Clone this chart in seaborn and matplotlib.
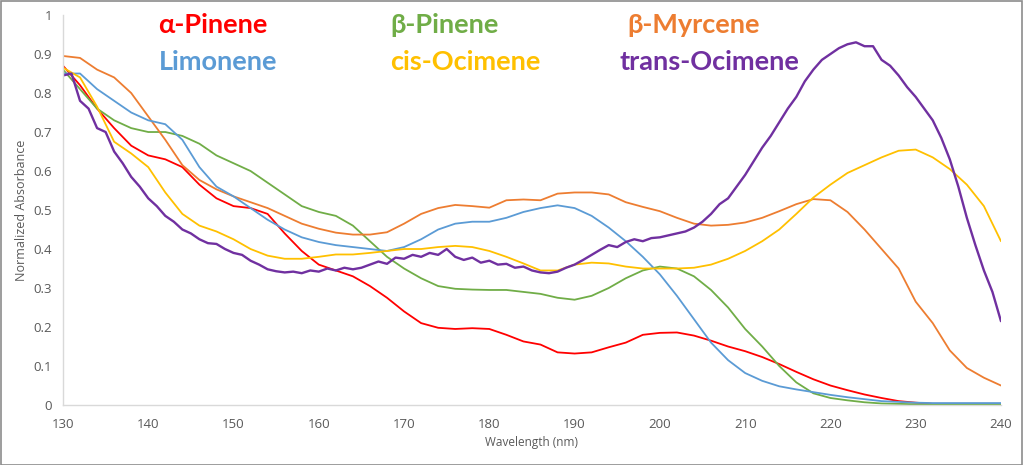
import numpy as np
import pandas as pd
import matplotlib
matplotlib.use("Agg")
import matplotlib.pyplot as plt
import seaborn as sns
from matplotlib.patches import Rectangle

# ---- data ----
wl2 = list(range(130, 241, 2))  # 2 nm grid for smoother spectra

alpha_pinene = [0.87, 0.82, 0.76, 0.71, 0.665, 0.64, 0.63, 0.61, 0.565, 0.53,
                0.51, 0.505, 0.49, 0.44, 0.395, 0.36, 0.345, 0.33, 0.305, 0.275,
                0.24, 0.21, 0.198, 0.195, 0.197, 0.195, 0.18, 0.163, 0.155, 0.135,
                0.132, 0.135, 0.148, 0.16, 0.18, 0.185, 0.186, 0.178, 0.165, 0.15,
                0.138, 0.123, 0.105, 0.085, 0.066, 0.05, 0.038, 0.027, 0.018, 0.01,
                0.006, 0.003, 0.003, 0.003, 0.003, 0.003]

beta_pinene = [0.86, 0.81, 0.76, 0.73, 0.71, 0.70, 0.70, 0.69, 0.67, 0.64,
               0.62, 0.60, 0.57, 0.54, 0.51, 0.495, 0.485, 0.46, 0.42, 0.38,
               0.35, 0.325, 0.305, 0.298, 0.296, 0.295, 0.295, 0.29, 0.285, 0.275,
               0.27, 0.28, 0.30, 0.325, 0.345, 0.355, 0.35, 0.33, 0.295, 0.25,
               0.195, 0.15, 0.10, 0.058, 0.03, 0.018, 0.012, 0.007, 0.004, 0.003,
               0.002, 0.002, 0.002, 0.002, 0.002, 0.002]

beta_myrcene = [0.895, 0.89, 0.86, 0.84, 0.80, 0.74, 0.68, 0.615, 0.577, 0.553,
                0.535, 0.52, 0.505, 0.485, 0.465, 0.452, 0.442, 0.437, 0.437, 0.443,
                0.465, 0.49, 0.505, 0.513, 0.51, 0.506, 0.525, 0.527, 0.525, 0.542,
                0.545, 0.545, 0.54, 0.52, 0.508, 0.497, 0.48, 0.465, 0.46, 0.462,
                0.468, 0.48, 0.497, 0.515, 0.528, 0.525, 0.495, 0.45, 0.40, 0.35,
                0.265, 0.21, 0.14, 0.095, 0.07, 0.05]

limonene = [0.85, 0.85, 0.81, 0.78, 0.75, 0.73, 0.72, 0.68, 0.61, 0.56,
            0.535, 0.505, 0.475, 0.45, 0.43, 0.418, 0.41, 0.405, 0.40, 0.395,
            0.405, 0.425, 0.45, 0.465, 0.47, 0.47, 0.48, 0.495, 0.505, 0.512,
            0.505, 0.485, 0.455, 0.42, 0.38, 0.335, 0.28, 0.22, 0.16, 0.115,
            0.082, 0.062, 0.048, 0.04, 0.033, 0.026, 0.02, 0.015, 0.01, 0.008,
            0.006, 0.005, 0.005, 0.005, 0.005, 0.005]

cis_ocimene = [0.865, 0.84, 0.765, 0.675, 0.645, 0.61, 0.545, 0.49, 0.46, 0.445,
               0.425, 0.40, 0.383, 0.375, 0.375, 0.38, 0.386, 0.386, 0.39, 0.395,
               0.40, 0.40, 0.405, 0.408, 0.405, 0.395, 0.38, 0.363, 0.345, 0.345,
               0.36, 0.365, 0.363, 0.355, 0.35, 0.35, 0.35, 0.352, 0.36, 0.375,
               0.395, 0.42, 0.45, 0.49, 0.532, 0.565, 0.595, 0.615, 0.635, 0.652,
               0.655, 0.635, 0.605, 0.565, 0.51, 0.42]

wl1 = list(range(130, 241, 1))  # 1 nm grid for the noisy trans-Ocimene trace
trans_ocimene = [0.845, 0.85, 0.78, 0.76, 0.71, 0.70, 0.65, 0.62, 0.585, 0.56,
                 0.53, 0.51, 0.485, 0.47, 0.45, 0.44, 0.425, 0.415, 0.413, 0.40,
                 0.39, 0.385, 0.37, 0.36, 0.348, 0.343, 0.34, 0.342, 0.338, 0.345,
                 0.342, 0.35, 0.345, 0.352, 0.348, 0.352, 0.36, 0.368, 0.362, 0.378,
                 0.375, 0.385, 0.38, 0.39, 0.385, 0.40, 0.38, 0.372, 0.378, 0.365,
                 0.37, 0.36, 0.362, 0.352, 0.355, 0.345, 0.34, 0.338, 0.342, 0.352,
                 0.36, 0.372, 0.385, 0.398, 0.41, 0.405, 0.418, 0.425, 0.42, 0.428,
                 0.43, 0.435, 0.44, 0.445, 0.455, 0.47, 0.49, 0.515, 0.53, 0.56,
                 0.59, 0.625, 0.66, 0.69, 0.725, 0.76, 0.79, 0.83, 0.86, 0.885,
                 0.90, 0.915, 0.925, 0.93, 0.92, 0.92, 0.885, 0.87, 0.845, 0.815,
                 0.79, 0.76, 0.73, 0.685, 0.63, 0.56, 0.48, 0.41, 0.345, 0.29,
                 0.215]

series_names = ["α-Pinene", "β-Pinene", "β-Myrcene", "Limonene", "cis-Ocimene", "trans-Ocimene"]
colors = ["#FF0000", "#70AD47", "#ED7D31", "#5B9BD5", "#FFC000", "#7030A0"]
x_ticks = list(range(130, 241, 10))
y_ticks = [0, 0.1, 0.2, 0.3, 0.4, 0.5, 0.6, 0.7, 0.8, 0.9, 1]
y_tick_labels = ["0", "0.1", "0.2", "0.3", "0.4", "0.5", "0.6", "0.7", "0.8", "0.9", "1"]

# ---- plot ----
sns.set_theme(style="white")
plt.rcParams["font.family"] = ["Open Sans", "DejaVu Sans"]

fig = plt.figure(figsize=(10.24, 4.65), dpi=100)
ax = fig.add_axes([0.0615, 0.129, 0.916, 0.8387])

data = [(wl2, alpha_pinene), (wl2, beta_pinene), (wl2, beta_myrcene),
        (wl2, limonene), (wl2, cis_ocimene), (wl1, trans_ocimene)]
for (xs, ys), c, name in zip(data, colors, series_names):
    lw = 1.7 if name == "trans-Ocimene" else 1.3
    sns.lineplot(x=xs, y=ys, color=c, linewidth=lw, ax=ax, legend=False)

ax.set_xlim(130, 240)
ax.set_ylim(0, 1)
ax.set_xticks(x_ticks)
ax.set_yticks(y_ticks)
ax.set_yticklabels(y_tick_labels)
ax.tick_params(axis="both", length=0, labelsize=9.5, labelcolor="#595959")
ax.tick_params(axis="y", pad=8)
ax.tick_params(axis="x", pad=9)
for s in ["top", "right"]:
    ax.spines[s].set_visible(False)
for s in ["left", "bottom"]:
    ax.spines[s].set_color("#d9d9d9")
    ax.spines[s].set_linewidth(1.0)
ax.grid(False)
ax.set_xlabel("Wavelength (nm)", fontsize=8.5, color="#595959", labelpad=4)
ax.set_ylabel("Normalized Absorbance", fontsize=9, color="#595959", labelpad=4)

# series labels
label_pos = [(141.2, 0.954), (168.4, 0.954), (196.2, 0.954),
             (141.2, 0.859), (168.4, 0.859), (195.3, 0.859)]
for (lx, ly), c, name in zip(label_pos, colors, series_names):
    ax.text(lx, ly, name, color=c, fontsize=19.5, fontweight="bold",
            family=["Lato", "DejaVu Sans"], ha="left", va="baseline")

fig.add_artist(Rectangle((0.0005, 0.001), 0.998, 0.997, transform=fig.transFigure,
                         fill=False, edgecolor="#8c8c8c", linewidth=1.2))

fig.savefig("out.png", dpi=100)
